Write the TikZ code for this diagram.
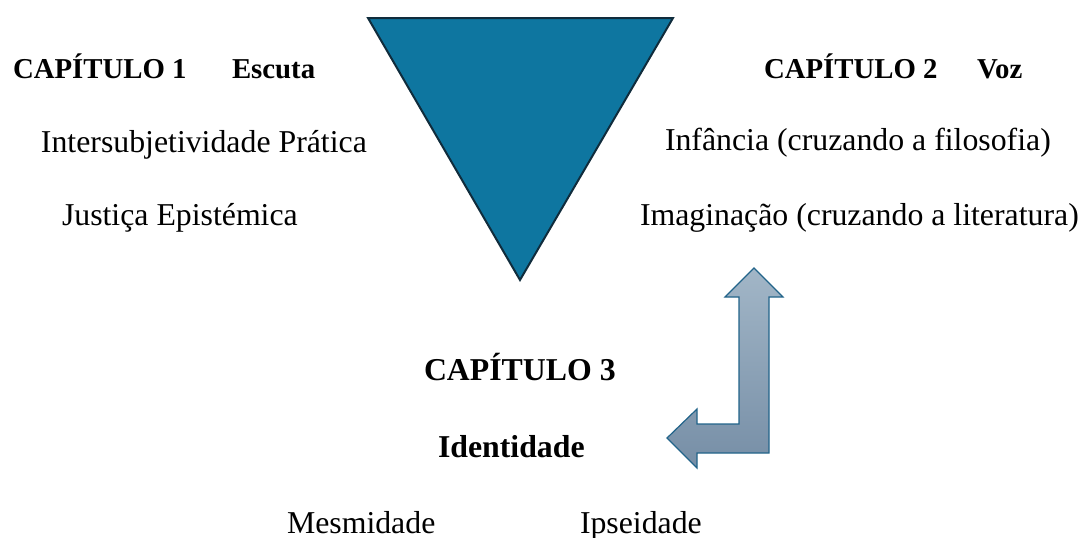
\documentclass[tikz,border=0pt]{standalone}
\usepackage{fontspec}
\setmainfont{Liberation Serif}
\definecolor{trifill}{RGB}{14,118,160}
\definecolor{tridraw}{RGB}{16,44,60}
\definecolor{arrtop}{RGB}{162,182,199}
\definecolor{arrbot}{RGB}{118,142,166}
\definecolor{arrdraw}{RGB}{34,100,138}
\begin{document}
\begin{tikzpicture}[x=1pt,y=-1pt,
  lbl/.style={anchor=base west,inner sep=0pt,outer sep=0pt,font=\fontsize{31.8}{36}\selectfont},
  hd/.style={anchor=base west,inner sep=0pt,outer sep=0pt,font=\fontsize{28.8}{33}\selectfont\bfseries},
  hdbig/.style={hd,font=\fontsize{31.8}{36}\selectfont\bfseries}]
\useasboundingbox (0,0) rectangle (1080,538);
% triangle
\draw[fill=trifill,draw=tridraw,line width=2pt,line join=miter]
  (368,18) -- (673,18) -- (520,280) -- cycle;
% bent arrow
\path[draw=arrdraw,line width=1.2pt,top color=arrtop,bottom color=arrbot]
  (754,268) -- (783,297) -- (769,297) -- (769,453) -- (697,453) -- (697,468)
  -- (667,438) -- (697,409) -- (697,424) -- (739,424) -- (739,297) -- (725,297) -- cycle;
% chapter 1
\node[hd] (c1) at (13,78) {CAPÍTULO 1};
\node[hd] (esc) at (232,78) {Escuta};
\node[lbl] (inter) at (41,152) {Intersubjetividade Prática};
\node[lbl] (just) at (62,225) {Justiça Epistémica};
% chapter 2
\node[hd] (c2) at (764,78) {CAPÍTULO 2};
\node[hd] (voz) at (977,78) {Voz};
\node[lbl] (inf) at (665,150) {Infância (cruzando a filosofia)};
\node[lbl] (ima) at (640,225) {Imaginação (cruzando a literatura)};
% chapter 3
\node[hdbig] (c3) at (424,380) {CAPÍTULO 3};
\node[hdbig] (ide) at (438,457) {Identidade};
\node[lbl] (mes) at (287,533) {Mesmidade};
\node[lbl] (ips) at (580,533) {Ipseidade};
\end{tikzpicture}
\end{document}
